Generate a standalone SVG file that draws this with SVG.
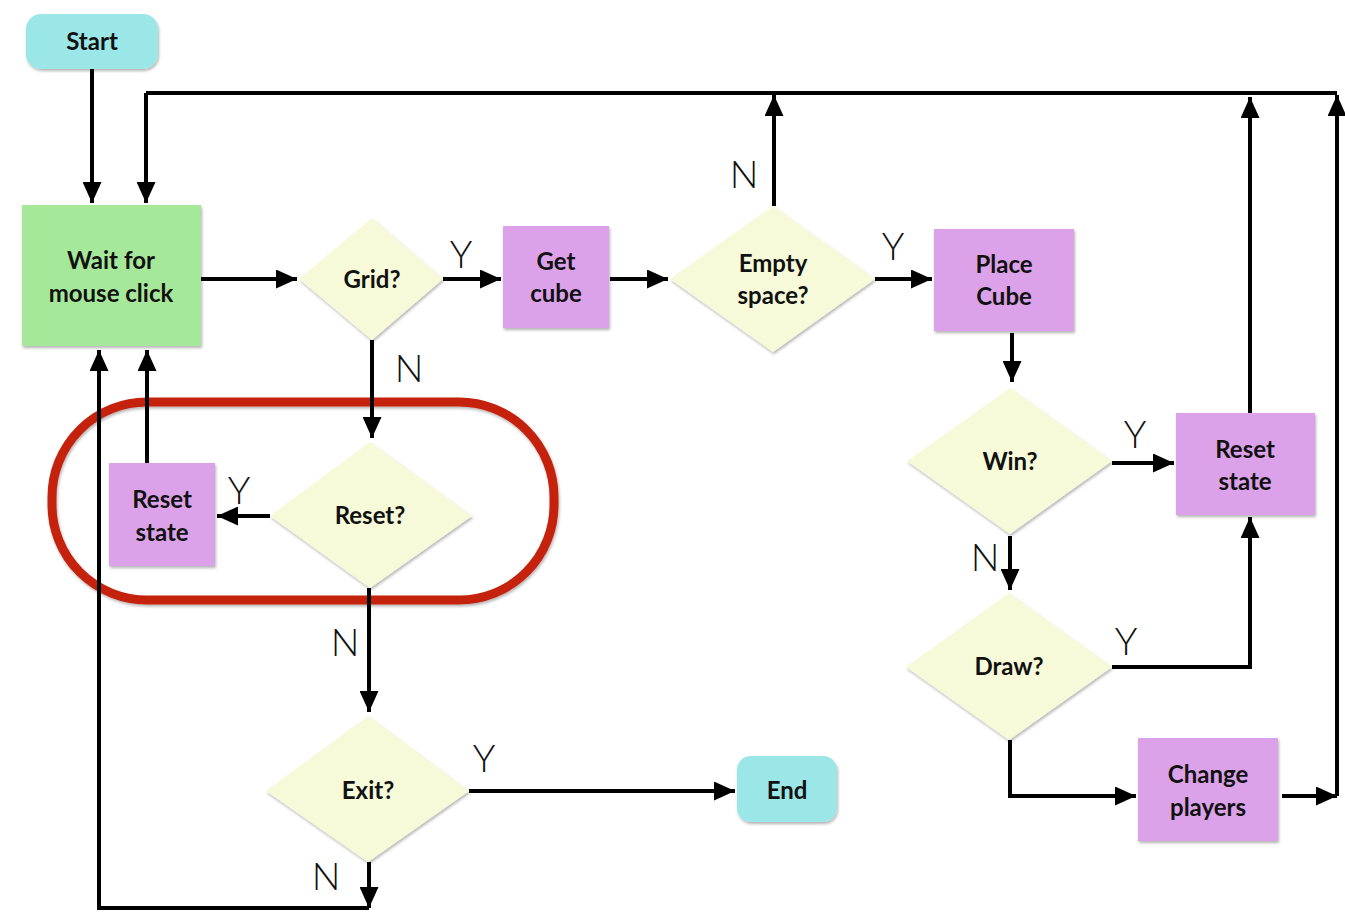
<svg xmlns="http://www.w3.org/2000/svg" width="1345" height="912" viewBox="0 0 1345 912">
<defs>
<marker id="ah" viewBox="0 0 21 19" refX="21" refY="9.5" markerWidth="21" markerHeight="19" markerUnits="userSpaceOnUse" orient="auto">
<path d="M0,0 L21,9.5 L0,19 z" fill="#000"/>
</marker>
<filter id="sh" x="-10%" y="-10%" width="125%" height="125%">
<feGaussianBlur in="SourceAlpha" stdDeviation="1.5"/>
<feOffset dx="1" dy="2" result="b"/>
<feComponentTransfer><feFuncA type="linear" slope="0.3"/></feComponentTransfer>
<feMerge><feMergeNode/><feMergeNode in="SourceGraphic"/></feMerge>
</filter>
</defs>
<style>
.term{fill:#9be6e6;filter:url(#sh)}
.wait{fill:#a6e89a;filter:url(#sh)}
.proc{fill:#dca2e9;filter:url(#sh)}
.dec{fill:#f6fad8;filter:url(#sh)}
.t{font-family:Lato,"Liberation Sans",sans-serif;font-weight:bold;font-size:24px;fill:#111;text-anchor:middle}
.lbl{font-family:Lato,"Liberation Sans",sans-serif;font-weight:300;font-size:38px;fill:#111;text-anchor:middle}
.c{fill:none;stroke:#000;stroke-width:4}
.ca{fill:none;stroke:#000;stroke-width:4;marker-end:url(#ah)}
</style>
<rect width="1345" height="912" fill="#fff"/>

<g id="highlight">
<rect x="52" y="402" width="502" height="198" rx="95" ry="95" fill="none" stroke="#c4210d" stroke-width="9" filter="url(#sh)"/>
</g>

<g id="connectors">
<path class="ca" d="M92,69 V203"/>
<path class="c" d="M146,93 H1337"/>
<path class="ca" d="M146,93 V203"/>
<path class="ca" d="M201,279 H297"/>
<path class="ca" d="M443,279 H501"/>
<path class="ca" d="M610,279 H668"/>
<path class="ca" d="M875,279 H932"/>
<path class="ca" d="M774,206 V95"/>
<path class="ca" d="M1012,333 V382"/>
<path class="ca" d="M1112,463 H1174"/>
<path class="ca" d="M1250,413 V97"/>
<path class="ca" d="M1010,536 V590"/>
<path class="ca" d="M1112,667 H1250 V517"/>
<path class="ca" d="M1010,740 V796 H1136"/>
<path class="ca" d="M1282,796 H1337"/>
<path class="ca" d="M1337,796 V95"/>
<path class="ca" d="M372,340 V438"/>
<path class="ca" d="M270,516 H217"/>
<path class="ca" d="M147,463 V350"/>
<path class="ca" d="M369,588 V712"/>
<path class="ca" d="M469,791 H735"/>
<path class="ca" d="M369,862 V908"/>
<path class="ca" d="M369,908 H99 V350"/>
<text class="lbl" x="461" y="268">Y</text>
<text class="lbl" x="893" y="260">Y</text>
<text class="lbl" x="744" y="188">N</text>
<text class="lbl" x="1135" y="448">Y</text>
<text class="lbl" x="985" y="571">N</text>
<text class="lbl" x="1126" y="655">Y</text>
<text class="lbl" x="409" y="382">N</text>
<text class="lbl" x="239" y="504">Y</text>
<text class="lbl" x="345" y="656">N</text>
<text class="lbl" x="484" y="772">Y</text>
<text class="lbl" x="326" y="890">N</text>
</g>

<g id="start"><rect class="term" x="26" y="14" width="132" height="55" rx="15"/><text class="t" x="92" y="50">Start</text></g>
<g id="wait"><rect class="wait" x="22" y="205" width="179" height="141"/><text class="t" x="111" y="269">Wait for</text><text class="t" x="111" y="302">mouse click</text></g>
<g id="grid"><polygon class="dec" points="372,218 443,279 372,340 299,279"/><text class="t" x="372" y="288">Grid?</text></g>
<g id="getcube"><rect class="proc" x="503" y="226" width="106" height="102"/><text class="t" x="556" y="270">Get</text><text class="t" x="556" y="302">cube</text></g>
<g id="empty"><polygon class="dec" points="773,206 875,279 773,352 670,279"/><text class="t" x="773" y="272">Empty</text><text class="t" x="773" y="304">space?</text></g>
<g id="place"><rect class="proc" x="934" y="229" width="140" height="102"/><text class="t" x="1004" y="273">Place</text><text class="t" x="1004" y="305">Cube</text></g>
<g id="win"><polygon class="dec" points="1010,388 1112,461 1010,534 907,461"/><text class="t" x="1010" y="470">Win?</text></g>
<g id="reset2"><rect class="proc" x="1176" y="413" width="139" height="102"/><text class="t" x="1245" y="458">Reset</text><text class="t" x="1245" y="490">state</text></g>
<g id="draw"><polygon class="dec" points="1009,593 1112,667 1009,740 906,667"/><text class="t" x="1009" y="675">Draw?</text></g>
<g id="change"><rect class="proc" x="1138" y="738" width="140" height="103"/><text class="t" x="1208" y="783">Change</text><text class="t" x="1208" y="816">players</text></g>
<g id="resetq"><polygon class="dec" points="370,442 472,516 370,588 270,516"/><text class="t" x="370" y="524">Reset?</text></g>
<g id="reset1"><rect class="proc" x="109" y="463" width="106" height="103"/><text class="t" x="162" y="508">Reset</text><text class="t" x="162" y="541">state</text></g>
<g id="exit"><polygon class="dec" points="368,716 469,791 368,862 266,791"/><text class="t" x="368" y="799">Exit?</text></g>
<g id="end"><rect class="term" x="737" y="756" width="100" height="66" rx="14"/><text class="t" x="787" y="799">End</text></g>
</svg>
